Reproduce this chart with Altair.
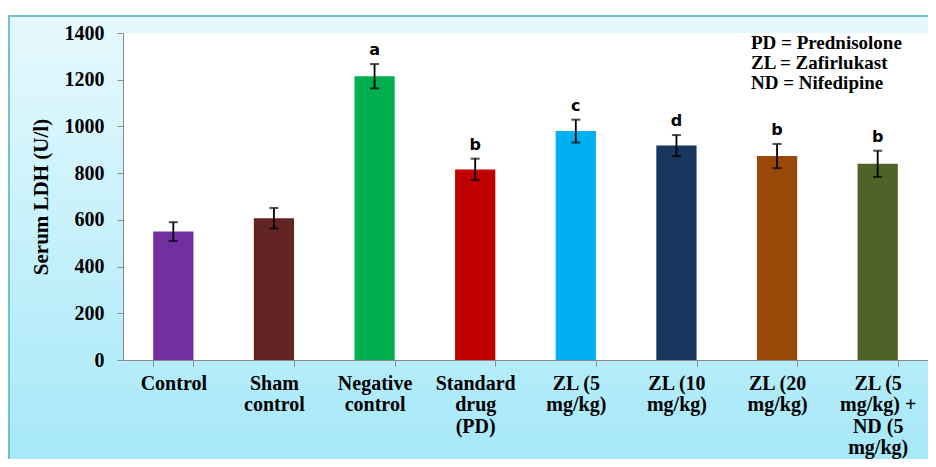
import altair as alt
import pandas as pd

categories = ["Control", "Sham|control", "Negative|control", "Standard|drug|(PD)",
              "ZL (5|mg/kg)", "ZL (10|mg/kg)", "ZL (20|mg/kg)", "ZL (5|mg/kg) +|ND (5|mg/kg)"]
means = [550, 607, 1215, 816, 980, 918, 873, 840]
errors = [40, 44, 52, 46, 49, 45, 52, 56]
letters = ["", "", "a", "b", "c", "d", "b", "b"]
colors = ["#7030A0", "#632523", "#00B050", "#C00000", "#00B0F0", "#17375E", "#984807", "#4F6228"]
notes = ["PD = Prednisolone", "ZL = Zafirlukast", "ND = Nifedipine"]
y_ticks = [0, 200, 400, 600, 800, 1000, 1200, 1400]

df = pd.DataFrame({"cat": categories, "mean": means, "err": errors, "letter": letters})
df["lo"] = df["mean"] - df["err"]
df["hi"] = df["mean"] + df["err"]

W, H = 805, 327
serif = "'Liberation Serif', 'Times New Roman', 'DejaVu Serif', serif"

xaxis = alt.Axis(title=None, labelExpr="split(datum.label, '|')", labelAngle=0,
                 labelFont=serif, labelFontSize=20, labelFontWeight="bold",
                 labelColor="black", labelLineHeight=21.5, labelPadding=7,
                 labelOverlap=False, labelLimit=0,
                 tickColor="#8a8a8a", tickSize=6, domainColor="#8a8a8a",
                 tickBand="extent", zindex=1)
xscale = alt.Scale(domain=categories, paddingInner=0.6, paddingOuter=0.3)
yaxis = alt.Axis(values=y_ticks, format="d", title="Serum LDH (U/l)", titleFont=serif,
                 titleFontSize=21, titleFontWeight="bold", titleColor="black",
                 titleX=-82, titleY=H / 2, titleBaseline="middle",
                 labelFont=serif, labelFontSize=20, labelFontWeight="bold",
                 labelColor="black", labelPadding=13, tickSize=6,
                 tickColor="#8a8a8a", domainColor="#8a8a8a", grid=False, zindex=1)
yscale = alt.Scale(domain=[0, 1400], nice=False)

X = alt.X("cat:N", sort=categories, scale=xscale, axis=xaxis)

one = alt.Data(values=[{}])
grad = alt.LinearGradient(gradient="linear", x1=0, x2=0, y1=0, y2=1,
                          stops=[alt.GradientStop(offset=0, color="#E6F9FD"),
                                 alt.GradientStop(offset=1, color="#A2E7F9")])
bg = alt.Chart(one).mark_rect(fill=grad, stroke="#6EC3CF", strokeWidth=2).encode(
    x=alt.value(-114), x2=alt.value(W + 30), y=alt.value(-17), y2=alt.value(H + 130))
white = alt.Chart(one).mark_rect(fill="white").encode(
    x=alt.value(0), x2=alt.value(W), y=alt.value(0), y2=alt.value(H))

base = alt.Chart(df)
bars = base.mark_bar().encode(
    x=X,
    y=alt.Y("mean:Q", scale=yscale, axis=yaxis),
    color=alt.Color("cat:N", scale=alt.Scale(domain=categories, range=colors), legend=None))
rule = base.mark_rule(color="black", strokeWidth=1.8).encode(
    x=X, y=alt.Y("lo:Q", scale=yscale, axis=yaxis), y2="hi:Q")
tick_hi = base.mark_tick(color="black", orient="horizontal", size=9, thickness=2).encode(
    x=X, y=alt.Y("hi:Q", scale=yscale, axis=yaxis))
tick_lo = base.mark_tick(color="black", orient="horizontal", size=9, thickness=2).encode(
    x=X, y=alt.Y("lo:Q", scale=yscale, axis=yaxis))
lab = base.mark_text(dy=-6, baseline="bottom", font="DejaVu Sans", fontWeight="bold",
                     fontSize=16, color="black").encode(
    x=X, y=alt.Y("hi:Q", scale=yscale, axis=yaxis), text="letter:N")
note = alt.Chart(one).mark_text(text=notes, align="left", baseline="top", font=serif,
                                fontWeight="bold", fontSize=19, lineHeight=20,
                                color="black").encode(
    x=alt.value(628), y=alt.value(1))

chart = alt.layer(bg, white, bars, rule, tick_hi, tick_lo, lab, note).properties(
    width=W, height=H,
    autosize=alt.AutoSizeParams(type="none"),
    padding={"left": 115, "top": 25, "right": 0, "bottom": 99},
    background="white",
).configure_view(stroke=None)

chart.save("out.html", embed_options={"renderer": "svg", "actions": False})
